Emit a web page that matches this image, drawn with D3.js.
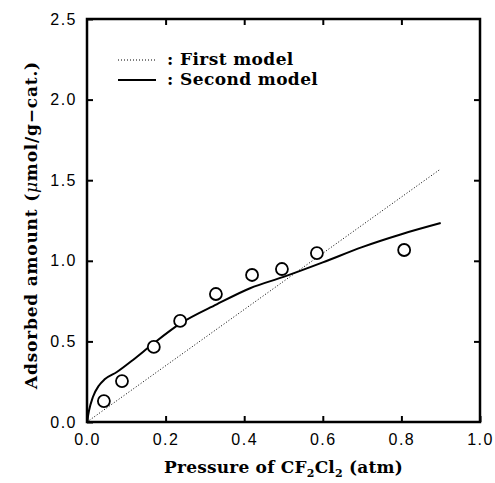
<!DOCTYPE html>
<html>
<head>
<meta charset="utf-8">
<script src="https://cdn.jsdelivr.net/npm/d3@7"></script>
<style>
  html, body { margin: 0; padding: 0; background: #fff; }
</style>
</head>
<body>
<div id="chart"></div>
<script>
// Measured points
const pressure = [0.043, 0.089, 0.170, 0.237, 0.328, 0.420, 0.496, 0.585, 0.807];
const adsorbed = [0.13, 0.254, 0.466, 0.627, 0.794, 0.912, 0.949, 1.048, 1.067];

// First model (straight line)
const firstModelP = [0, 0.9];
const firstModelQ = [0, 1.57];

// Second model (curve)
const secondModelP = [0, 0.005, 0.015, 0.03, 0.045, 0.076, 0.117, 0.168, 0.237, 0.33, 0.415, 0.5, 0.6, 0.7, 0.8, 0.9];
const secondModelQ = [0, 0.07, 0.155, 0.225, 0.265, 0.31, 0.385, 0.485, 0.61, 0.73, 0.83, 0.9, 0.99, 1.085, 1.165, 1.234];

const xTicks = [0, 0.2, 0.4, 0.6, 0.8, 1.0];
const yTicks = [0, 0.5, 1.0, 1.5, 2.0, 2.5];

const width = 495, height = 483;
const margin = { top: 19, right: 15, bottom: 61, left: 87 };
const w = width - margin.left - margin.right;
const h = height - margin.top - margin.bottom;

const svg = d3.select("#chart").append("svg")
    .attr("width", width)
    .attr("height", height);

const g = svg.append("g")
    .attr("transform", `translate(${margin.left},${margin.top})`);

const x = d3.scaleLinear().domain([0, 1]).range([0, w]);
const y = d3.scaleLinear().domain([0, 2.5]).range([h, 0]);

const tickFont = "'Liberation Sans', Arial, sans-serif";
const serifBold = "'DejaVu Serif', 'Liberation Serif', serif";

// Bottom axis with labels
const xAxis = g.append("g")
    .attr("transform", `translate(0,${h})`)
    .call(d3.axisBottom(x).tickValues(xTicks).tickFormat(d3.format(".1f"))
        .tickSizeInner(-6).tickSizeOuter(0).tickPadding(12));
// Left axis with labels
const yAxis = g.append("g")
    .call(d3.axisLeft(y).tickValues(yTicks).tickFormat(d3.format(".1f"))
        .tickSizeInner(-6).tickSizeOuter(0).tickPadding(10));
// Top and right inward ticks, no labels
const xTop = g.append("g")
    .call(d3.axisTop(x).tickValues(xTicks.slice(1, -1)).tickFormat("")
        .tickSizeInner(-6).tickSizeOuter(0));
const yRight = g.append("g")
    .attr("transform", `translate(${w},0)`)
    .call(d3.axisRight(y).tickValues(yTicks.slice(1, -1)).tickFormat("")
        .tickSizeInner(-6).tickSizeOuter(0));

[xAxis, yAxis, xTop, yRight].forEach(a => {
    a.select(".domain").remove();
    a.selectAll("line").attr("stroke", "#000").attr("stroke-width", 2);
    a.selectAll("text")
        .style("font-family", tickFont)
        .style("font-size", "16px")
        .style("letter-spacing", "1.5px")
        .attr("fill", "#000");
});

// Frame
g.append("rect")
    .attr("x", 0).attr("y", 0)
    .attr("width", w).attr("height", h)
    .attr("fill", "none")
    .attr("stroke", "#000")
    .attr("stroke-width", 2.5);

// First model (dotted)
const line = d3.line().x(d => x(d[0])).y(d => y(d[1]));
g.append("path")
    .datum(d3.zip(firstModelP, firstModelQ))
    .attr("fill", "none")
    .attr("stroke", "#000")
    .attr("stroke-width", 1)
    .attr("stroke-dasharray", "1,2")
    .attr("d", line);

// Second model (solid)
g.append("path")
    .datum(d3.zip(secondModelP, secondModelQ))
    .attr("fill", "none")
    .attr("stroke", "#000")
    .attr("stroke-width", 2)
    .attr("d", line.curve(d3.curveMonotoneX));

// Data points
g.selectAll("circle.pt")
    .data(d3.zip(pressure, adsorbed))
    .join("circle")
    .attr("class", "pt")
    .attr("cx", d => x(d[0]))
    .attr("cy", d => y(d[1]))
    .attr("r", 6)
    .attr("fill", "#fff")
    .attr("stroke", "#000")
    .attr("stroke-width", 1.8);

// Legend
const legend = g.append("g").attr("transform", "translate(31,41)");
const legendItems = [
    { label: ": First model", dash: "1,2", sw: 1 },
    { label: ": Second model", dash: null, sw: 2 }
];
legendItems.forEach((item, i) => {
    const row = legend.append("g").attr("transform", `translate(0,${i * 20})`);
    row.append("line")
        .attr("x1", 0).attr("x2", 38)
        .attr("y1", 0).attr("y2", 0)
        .attr("stroke", "#000")
        .attr("stroke-width", item.sw)
        .attr("stroke-dasharray", item.dash);
    row.append("text")
        .attr("x", 49).attr("y", 5)
        .style("font-family", serifBold)
        .style("font-weight", "bold")
        .style("font-size", "17px")
        .style("letter-spacing", "0.4px")
        .text(item.label);
});

// X axis title
const xTitle = svg.append("text")
    .attr("x", margin.left + w / 2)
    .attr("y", 473)
    .attr("text-anchor", "middle")
    .style("font-family", serifBold)
    .style("font-weight", "bold")
    .style("font-size", "17px")
    .style("letter-spacing", "0.2px");
xTitle.append("tspan").text("Pressure of CF");
xTitle.append("tspan").attr("dy", 4).style("font-size", "11px").text("2");
xTitle.append("tspan").attr("dy", -4).text("Cl");
xTitle.append("tspan").attr("dy", 4).style("font-size", "11px").text("2");
xTitle.append("tspan").attr("dy", -4).text(" (atm)");

// Y axis title
const yTitle = svg.append("text")
    .attr("transform", `translate(37,225) rotate(-90)`)
    .attr("text-anchor", "middle")
    .style("font-family", serifBold)
    .style("font-weight", "bold")
    .style("font-size", "17px")
    .style("letter-spacing", "0.8px");
yTitle.append("tspan").text("Adsorbed amount (");
yTitle.append("tspan").style("font-style", "italic").style("font-weight", "normal").text("μ");
yTitle.append("tspan").text("mol/g\u2212cat.)");
</script>
</body>
</html>
